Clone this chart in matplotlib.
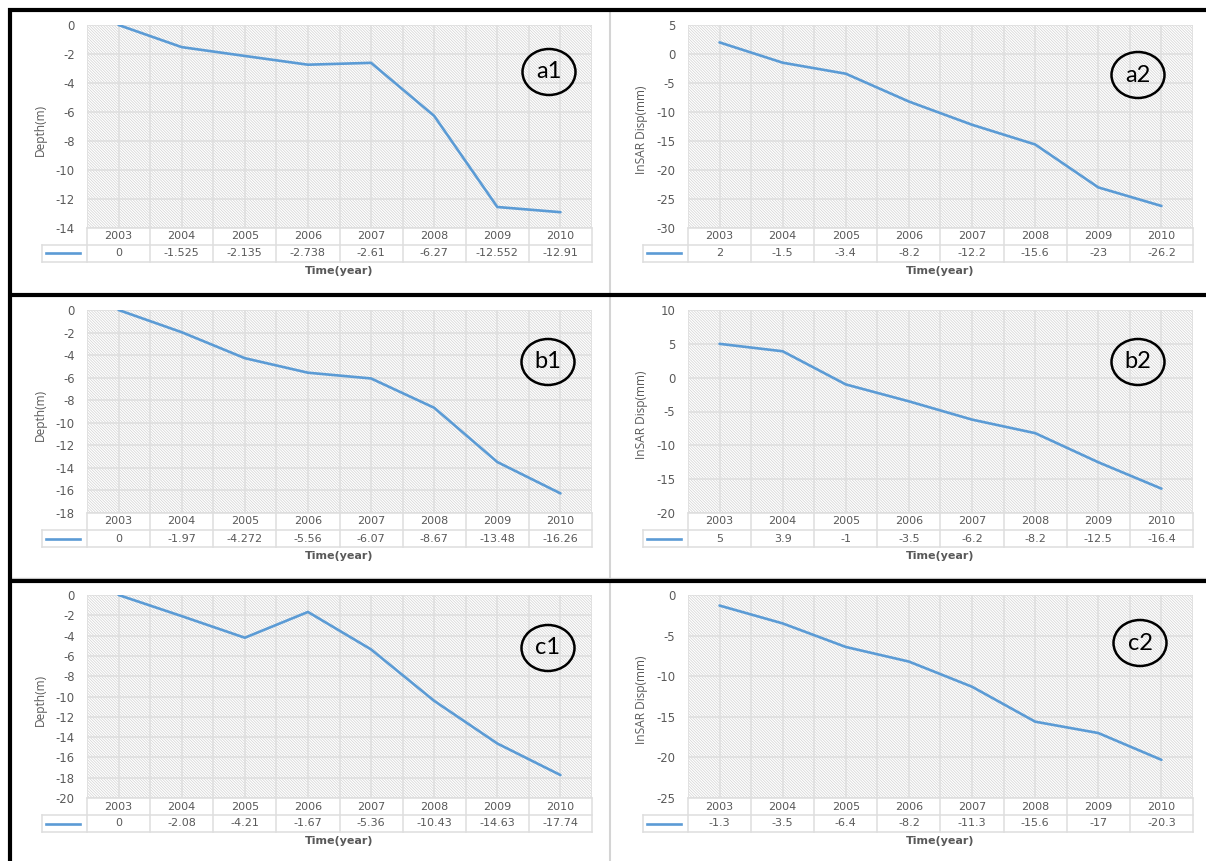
import matplotlib
matplotlib.use("Agg")
import matplotlib.pyplot as plt
from matplotlib.patches import Rectangle, Ellipse
from matplotlib.lines import Line2D

# ---- data -------------------------------------------------------------
years = ["2003", "2004", "2005", "2006", "2007", "2008", "2009", "2010"]

a1_depth = [0, -1.525, -2.135, -2.738, -2.61, -6.27, -12.552, -12.91]
a2_disp = [2, -1.5, -3.4, -8.2, -12.2, -15.6, -23, -26.2]
b1_depth = [0, -1.97, -4.272, -5.56, -6.07, -8.67, -13.48, -16.26]
b2_disp = [5, 3.9, -1, -3.5, -6.2, -8.2, -12.5, -16.4]
c1_depth = [0, -2.08, -4.21, -1.67, -5.36, -10.43, -14.63, -17.74]
c2_disp = [-1.3, -3.5, -6.4, -8.2, -11.3, -15.6, -17, -20.3]

panel_tags = ["a1", "a2", "b1", "b2", "c1", "c2"]
depth_label = "Depth(m)"
disp_label = "InSAR Disp(mm)"
x_title = "Time(year)"

# ---- figure geometry (pixels, origin top-left) ------------------------
W, H = 1206, 861
fig = plt.figure(figsize=(W / 100, H / 100), dpi=100)
fig.patch.set_facecolor("white")

def fx(x):
    return x / W

def fy(y):
    return 1 - y / H

LINE_BLUE = "#5B9BD5"
GRID = "#dedede"
TEXT = "#595959"
plt.rcParams["hatch.linewidth"] = 0.5

col_left = [87, 688]
row_top = [25, 310, 595]
plot_w, plot_h = 505, 203
row_h = 17
leg_w = 45

panels = [
    (0, 0, a1_depth, depth_label, (-14, 0, 2), (549, 72)),
    (0, 1, a2_disp, disp_label, (-30, 5, 5), (1138, 75)),
    (1, 0, b1_depth, depth_label, (-18, 0, 2), (548, 362)),
    (1, 1, b2_disp, disp_label, (-20, 10, 5), (1138, 362)),
    (2, 0, c1_depth, depth_label, (-20, 0, 2), (548, 648)),
    (2, 1, c2_disp, disp_label, (-25, 0, 5), (1140, 643)),
]

x = list(range(len(years)))

for tag, (r, c, vals, ylab, (ymin, ymax, ystep), circ) in zip(panel_tags, panels):
    L = col_left[c]
    T = row_top[r]
    ax = fig.add_axes([fx(L), fy(T + plot_h), plot_w / W, plot_h / H])
    ax.set_xlim(-0.5, len(years) - 0.5)
    ax.set_ylim(ymin, ymax)
    for s in ax.spines.values():
        s.set_visible(False)

    # hatched plot area
    ax.add_patch(Rectangle((0, 0), 1, 1, transform=ax.transAxes,
                           facecolor="white", edgecolor="#d2d2d2",
                           linewidth=0, hatch="\\" * 12, zorder=0))

    # gridlines: every tick horizontally, centres and boundaries vertically
    yt = list(range(ymin, ymax + 1, ystep))
    for yv in yt:
        ax.axhline(yv, color=GRID, lw=1.1, zorder=1)
    for k in range(2 * len(years) + 1):
        ax.axvline(-0.5 + k * 0.5, color=GRID, lw=1.1, zorder=1)

    ax.plot(x, vals, color=LINE_BLUE, lw=1.9, zorder=3,
            solid_joinstyle="round", solid_capstyle="round")

    ax.set_yticks(yt)
    ax.set_yticklabels([str(v) for v in yt])
    ax.tick_params(axis="y", length=0, pad=9, labelsize=8.4, labelcolor=TEXT)
    ax.set_xticks([])

    # data table under the plot
    tab = fig.add_axes([fx(L - leg_w), fy(T + plot_h + 2 * row_h),
                        (plot_w + leg_w) / W, 2 * row_h / H])
    colw = plot_w / len(years)
    xleg = -0.5 - leg_w / colw
    tab.set_xlim(xleg, len(years) - 0.5)
    tab.set_ylim(2, 0)
    tab.axis("off")
    n = len(years)
    tab.plot([-0.5, n - 0.5], [0, 0], color=GRID, lw=1.1, clip_on=False)
    tab.plot([xleg, n - 0.5], [1, 1], color=GRID, lw=1.1, clip_on=False)
    tab.plot([xleg, n - 0.5], [2, 2], color=GRID, lw=1.1, clip_on=False)
    for k in range(n + 1):
        tab.plot([-0.5 + k, -0.5 + k], [0, 2], color=GRID, lw=1.1, clip_on=False)
    tab.plot([xleg, xleg], [1, 2], color=GRID, lw=1.1, clip_on=False)
    lx0 = xleg + 4 / colw
    lx1 = -0.5 - 7 / colw
    tab.plot([lx0, lx1], [1.5, 1.5], color=LINE_BLUE, lw=1.9, clip_on=False)
    for i, (yr, v) in enumerate(zip(years, vals)):
        tab.text(i, 0.5, yr, ha="center", va="center", fontsize=8.0, color=TEXT)
        tab.text(i, 1.5, f"{v:g}", ha="center", va="center", fontsize=8.0,
                 color=TEXT)

    # axis titles
    fig.text(fx(L - 47), fy(T + 105), ylab, rotation=90, ha="center",
             va="center", fontsize=8.6, color=TEXT, family="Open Sans")
    fig.text(fx(L + plot_w / 2), fy(T + 246), x_title, ha="center",
             va="center", fontsize=8.0, color=TEXT, fontweight="bold")

    # circled panel tag
    cxp, cyp = circ
    fig.patches.append(Ellipse((fx(cxp), fy(cyp)), 53 / W, 46 / H,
                               transform=fig.transFigure, facecolor="none",
                               edgecolor="black", lw=1.8, zorder=5))
    fig.text(fx(cxp), fy(cyp), tag, ha="center", va="center", fontsize=17,
             family="Lato", color="black", zorder=6)

# ---- frame lines ------------------------------------------------------
def fig_line(x0, y0, x1, y1, color, lw):
    fig.add_artist(Line2D([fx(x0), fx(x1)], [fy(y0), fy(y1)],
                          transform=fig.transFigure, color=color, lw=lw,
                          solid_capstyle="butt"))

fig_line(610, 12, 610, H, "#d4d4d4", 1.5)
fig_line(8, 578, W, 578, "#d4d4d4", 1.0)
fig_line(8, 10, W, 10, "black", 3.0)
fig_line(9.5, 8, 9.5, H, "black", 3.0)
fig_line(8, 295, W, 295, "black", 3.0)
fig_line(8, 580.5, W, 580.5, "black", 3.0)

fig.savefig("out.png", dpi=100, facecolor="white")
